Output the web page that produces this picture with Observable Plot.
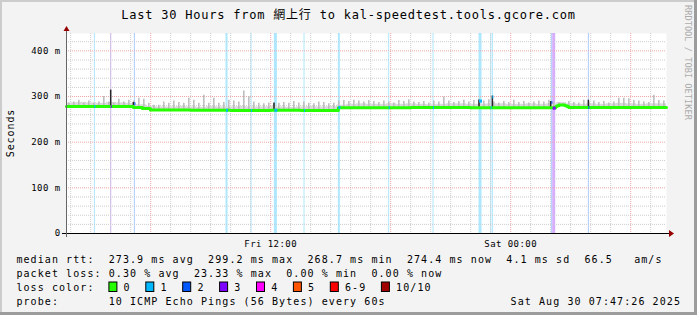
<!DOCTYPE html>
<html><head><meta charset="utf-8">
<script src="https://cdn.jsdelivr.net/npm/d3@7"></script>
<script src="https://cdn.jsdelivr.net/npm/@observablehq/plot@0.6"></script>
<style>
body{margin:0;background:#f3f3f3}
#wrap{position:relative;width:697px;height:315px;background:#f3f3f3;overflow:hidden}
#wrap svg{position:absolute;left:0;top:0}
.mono{font-family:"DejaVu Sans Mono","Noto Sans CJK TC",monospace;white-space:pre}
</style></head><body><div id="wrap"></div>
<script>
// ---------- data ----------
const startTime = "2025-08-29T01:47:26Z";
const endTime   = "2025-08-30T07:47:26Z";
const titleText = "Last 30 Hours from 網上行 to kal-speedtest.tools.gcore.com";

// median RTT (ms), step series
const medianTimes = ["2025-08-29T01:47:26Z","2025-08-29T05:08Z","2025-08-29T05:35Z","2025-08-29T05:59Z","2025-08-29T08:00Z","2025-08-29T10:00Z","2025-08-29T12:00Z","2025-08-29T13:30Z","2025-08-29T15:23Z","2025-08-29T19:00Z","2025-08-29T22:00Z","2025-08-30T02:15Z","2025-08-30T02:19Z","2025-08-30T02:25Z","2025-08-30T02:43Z","2025-08-30T02:49Z","2025-08-30T02:54Z","2025-08-30T07:47:26Z"];
const medianValues = [278,276.2,274,270.5,270,269.5,270,269.2,275.5,276,275.5,278,280,281.5,280,278,276,276];

// smoke spikes: top of the ping spread (ms), one per 15-minute bin
const smokeHi = [285,288,292,285,290,285,288,300,288,285,294,288,292,290,296,294,285,281,281,288,285,290,287,285,296,292,285,303,285,296,
                 285,287,292,290,288,312,300,288,285,284,286,284,285,287,285,289,286,288,285,284,288,287,284,285,290,291,289,292,290,288,
                 291,289,287,290,288,286,291,289,293,288,287,289,286,290,288,299,290,287,289,292,288,291,294,290,293,288,286,289,287,292,
                 287,289,286,288,290,288,292,287,286,284,289,287,286,292,288,290,287,289,286,288,296,296,295,291,290,288,287,303,291,290];
// dense lower smoke band (ms), one per 30-minute bin
const smokeLo = [286,287,286,285,287,286,285,282,278,277,277,278,277,276,278,277,277,278,277,277,278,277,276,277,278,277,278,281,283,284,
                 283,283,284,283,284,283,282,283,284,284,283,283,284,284,283,283,284,283,284,287,284,283,284,283,284,285,284,283,284,284];

// packet-loss events: start, length in 3-min steps, lost pings of 10, median during the step
const lossTimes  = ["2025-08-29T03:11Z","2025-08-29T04:00Z","2025-08-29T05:11Z","2025-08-29T09:46Z","2025-08-29T11:01Z","2025-08-29T12:11Z","2025-08-29T13:40Z","2025-08-29T15:23Z","2025-08-29T17:54Z","2025-08-29T20:07Z","2025-08-29T22:25Z","2025-08-29T23:00Z","2025-08-29T23:05Z","2025-08-30T02:02Z","2025-08-30T02:06Z","2025-08-30T03:53Z"];
const lossSteps  = [1,1,1,2,1,3,1,2,1,1,3,1,1,1,3,1];
const lossCounts = [1,3,2,1,1,1,1,1,1,1,1,1,1,2,3,2];
const lossMedian = [278,278,284,270,269.5,270,269.2,276,276,275.5,290,276,299.2,287,274.5,276];

// dark smoke at lossy steps (ms)
const darkTimes = ["2025-08-29T04:00Z","2025-08-29T05:08Z","2025-08-29T12:10Z","2025-08-29T22:25Z","2025-08-29T23:05Z","2025-08-30T02:00Z","2025-08-30T03:53Z"];
const darkLow   = [277,280,270,275,275,274,277];
const darkHigh  = [314,287,286,292,301,289,292];

const lossLabels = ["0","1","2","3","4","5","6-9","10/10"];
const lossColors = ["#26ff00","#00b8ff","#0059ff","#7e00ff","#ff00ff","#ff5500","#ff0000","#a00000"];

const yTicks = [0,100,200,300,400];
const legendLines = [
  "median rtt:  273.9 ms avg  299.2 ms max  268.7 ms min  274.4 ms now  4.1 ms sd  66.5   am/s",
  "packet loss: 0.30 % avg  23.33 % max  0.00 % min  0.00 % now",
  "loss color:",
  "probe:       10 ICMP Echo Pings (56 Bytes) every 60s"
];
const stampText = "Sat Aug 30 07:47:26 2025";
const creditText = "RRDTOOL / TOBI OETIKER";

// ---------- derived tables ----------
const MIN = 60000;
const t0 = new Date(startTime), t1 = new Date(endTime);
const median = medianTimes.map((s,i)=>({t:new Date(s), v:medianValues[i]}));
function medianAt(t){let v=median[0].v;for(const d of median){if(d.t<=t)v=d.v;else break;}return v;}
function lossColor(n){return n>=10?lossColors[7]:n>=6?lossColors[6]:lossColors[n];}
const spikes = smokeHi.map((v,i)=>{const t=new Date(+t0+(i*15+7)*MIN);return {t,lo:medianAt(t),hi:v};});
const stubble = [];
smokeLo.forEach((v,i)=>{
  const a=new Date(+t0+i*30*MIN), b=new Date(Math.min(+t0+(i+1)*30*MIN,+t1));
  const cuts=[a,...median.map(d=>d.t).filter(t=>t>a&&t<b),b];
  for(let k=0;k<cuts.length-1;k++){const m=medianAt(cuts[k]);stubble.push({x1:cuts[k],x2:cuts[k+1],y1:m,y2:Math.max(v,m)});}
});
const losses = lossTimes.map((s,i)=>{const a=new Date(s);return {x1:a,x2:new Date(+a+lossSteps[i]*3*MIN),c:lossColor(lossCounts[i]),med:lossMedian[i]};});
const dark = darkTimes.map((s,i)=>({t:new Date(s),lo:darkLow[i],hi:darkHigh[i]}));

const yTop = 438;
const hours = d3.utcHour.range(t0,t1);
const minorX = hours.filter(d=>d.getUTCHours()%6);
const majorX = hours.filter(d=>d.getUTCHours()%6===0);
const minorY = d3.range(20,yTop,20).filter(v=>v%100);
const majorY = yTicks.filter(v=>v>0);

const chart = Plot.plot({
  width:697,height:250,marginLeft:66,marginRight:31,marginTop:33,marginBottom:17,
  x:{type:"utc",domain:[t0,t1]},
  y:{domain:[0,yTop]},
  color:{type:"identity"},
  style:{background:"transparent",fontFamily:"DejaVu Sans Mono",fontSize:"9px",letterSpacing:"0.45px",color:"#000",overflow:"visible"},
  marks:[
    Plot.frame({fill:"#fff",stroke:null}),
    Plot.rect(losses,{x1:"x1",x2:"x2",y1:0,y2:yTop,fill:"c",fillOpacity:0.32}),
    Plot.ruleY(minorY,{stroke:"#cdcdcd",strokeDasharray:"1,1"}),
    Plot.ruleX(minorX,{stroke:"#cdcdcd",strokeDasharray:"1,1"}),
    Plot.ruleY(majorY,{stroke:"#eda8a8",strokeDasharray:"1,1"}),
    Plot.ruleX(majorX,{stroke:"#eda8a8",strokeDasharray:"1,1"}),
    Plot.rect(stubble,{x1:"x1",x2:"x2",y1:"y1",y2:"y2",fill:"#d9d9d9"}),
    Plot.ruleX(spikes,{x:"t",y1:"lo",y2:"hi",stroke:"#bababa",strokeWidth:1.5}),
    Plot.ruleX(dark,{x:"t",y1:"lo",y2:"hi",stroke:"#262626",strokeWidth:1.5}),
    Plot.line(median,{x:"t",y:"v",curve:"step-after",stroke:"#26ff00",strokeWidth:3}),
    Plot.link(losses,{x1:"x1",x2:"x2",y1:"med",y2:"med",stroke:"c",strokeWidth:3}),
    Plot.axisY({ticks:yTicks,tickFormat:d=>d===0?"0":d+" m",tickSize:0,tickPadding:6,label:null}),
    Plot.axisX({ticks:d3.utcHour.every(12).range(t0,t1),tickFormat:d3.utcFormat("%a %H:%M"),tickSize:0,tickPadding:7,label:null})
  ]
});
const wrap = document.getElementById("wrap");
wrap.appendChild(chart);

// ---------- overlay: frame chrome, title, legend ----------
const ov=d3.select(wrap).append("svg").attr("width",697).attr("height",315);
ov.append("rect").attr("x",0).attr("y",0).attr("width",697).attr("height",2).attr("fill","#cccccc");
ov.append("rect").attr("x",0).attr("y",0).attr("width",2).attr("height",315).attr("fill","#cccccc");
ov.append("rect").attr("x",694).attr("y",0).attr("width",3).attr("height",315).attr("fill","#9c9c9c");
ov.append("rect").attr("x",0).attr("y",312).attr("width",697).attr("height",3).attr("fill","#9c9c9c");
// axes
ov.append("line").attr("x1",62).attr("x2",670).attr("y1",233.5).attr("y2",233.5).attr("stroke","#000");
ov.append("line").attr("x1",66.5).attr("x2",66.5).attr("y1",237).attr("y2",31).attr("stroke","#666");
ov.append("path").attr("d","M669,230L674,233.5L669,237Z").attr("fill","#960000");
ov.append("path").attr("d","M63.5,31L66.5,26L69.5,31Z").attr("fill","#960000");
// title
ov.append("text").attr("class","mono").attr("x",348.5).attr("y",19).attr("text-anchor","middle")
  .style("font-size","12px").style("letter-spacing","0.78px").attr("fill","#000").text(titleText);
// y label
ov.append("text").attr("class","mono").attr("transform","translate(14,133) rotate(-90)").attr("text-anchor","middle")
  .style("font-size","10px").style("letter-spacing","0.9px").attr("fill","#000").text("Seconds");
// credit
ov.append("text").attr("class","mono").attr("transform","translate(685,5) rotate(90)")
  .style("font-size","8.6px").style("letter-spacing","0.05px").attr("fill","#acacac").text(creditText);
// legend
const rowY=[262.7,276.7,290.7,304.7];
legendLines.forEach((s,i)=>{
  ov.append("text").attr("class","mono").attr("x",16.4).attr("y",rowY[i])
    .style("font-size","10px").style("letter-spacing","1.08px").attr("fill","#000").text(s);
});
ov.append("text").attr("class","mono").attr("x",681).attr("y",rowY[3]).attr("text-anchor","end")
  .style("font-size","10px").style("letter-spacing","1.08px").attr("fill","#000").text(stampText);
let lx=108.4;
lossLabels.forEach((lab,i)=>{
  ov.append("rect").attr("x",lx+0.5).attr("y",282).attr("width",8).attr("height",9.5)
    .attr("fill",lossColors[i]).attr("stroke","#000").attr("stroke-width",1);
  ov.append("text").attr("class","mono").attr("x",lx+15.2).attr("y",rowY[2])
    .style("font-size","10px").style("letter-spacing","1.08px").attr("fill","#000").text(lab);
  lx += 15.2 + lab.length*7.1 + 14.6;
});
</script></body></html>
